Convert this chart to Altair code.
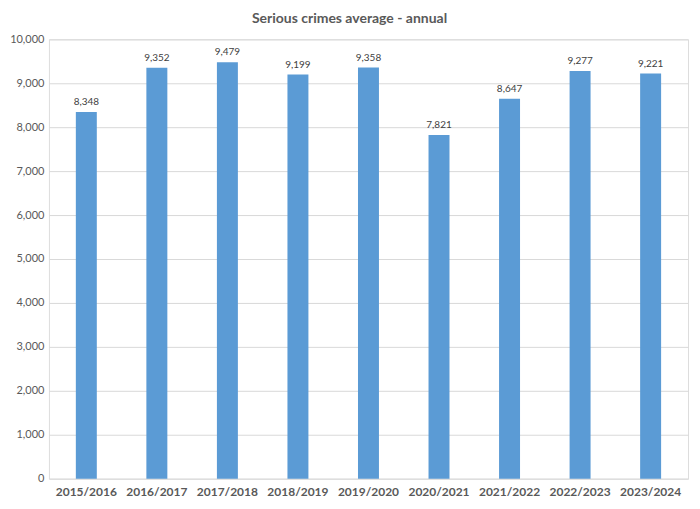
import altair as alt
import pandas as pd

years = ["2015/2016", "2016/2017", "2017/2018", "2018/2019", "2019/2020",
         "2020/2021", "2021/2022", "2022/2023", "2023/2024"]
values = [8348, 9352, 9479, 9199, 9358, 7821, 8647, 9277, 9221]

df = pd.DataFrame({"year": years, "value": values})

FONT = "Lato"

base = alt.Chart(df).encode(
    x=alt.X("year:N", sort=years, title=None,
            scale=alt.Scale(paddingInner=0.7, paddingOuter=0.38),
            axis=alt.Axis(labelAngle=0, labelFontWeight="bold", labelFontSize=12,
                          labelColor="#595959", labelFont=FONT, ticks=False,
                          domain=False, labelPadding=8)),
    y=alt.Y("value:Q", title=None,
            scale=alt.Scale(domain=[0, 10000]),
            axis=alt.Axis(values=list(range(0, 10001, 1000)), format=",.0f",
                          labelFontSize=11, labelColor="#595959", labelFont=FONT,
                          ticks=False, domain=False, labelPadding=5,
                          grid=True, gridColor="#D9D9D9", gridWidth=1)),
)

bars = base.mark_bar(color="#5B9BD5", size=21)
labels = base.mark_text(baseline="bottom", dy=-5, fontSize=10, color="#404040",
                        font=FONT).encode(text=alt.Text("value:Q", format=",.0f"))

chart = (bars + labels).properties(
    width=640, height=440,
    title=alt.TitleParams("Serious crimes average - annual", fontSize=14,
                          font=FONT, fontWeight="bold", color="#595959",
                          anchor="middle", offset=7, dx=-19),
    autosize=alt.AutoSizeParams(type="none"),
    padding={"left": 41, "top": 31, "right": 4, "bottom": 24},
).configure_view(stroke=None).configure(background="white")

chart.save("out.html", embed_options={"renderer": "svg", "actions": False})
